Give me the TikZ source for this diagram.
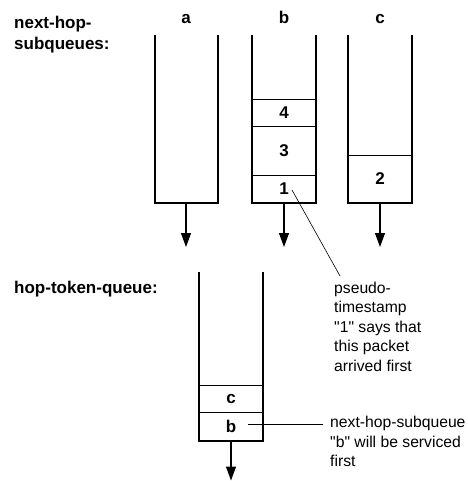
\documentclass[tikz,border=0pt]{standalone}
\usepackage{fontspec}
\setmainfont{Liberation Sans}[Ligatures=TeXOff]
\usetikzlibrary{arrows.meta}
\begin{document}
\begin{tikzpicture}[x=1pt,y=-1pt,
  wall/.style={line width=1.5pt},
  cellbox/.style={draw, line width=0.8pt, minimum width=64pt, inner sep=0pt, font=\fontsize{17}{20}\selectfont\bfseries},
  outarrow/.style={line width=1.2pt, -{Triangle[length=14pt,width=10pt]}},
  leader/.style={line width=0.6pt},
  heading/.style={anchor=north west, inner sep=0pt, align=left, font=\fontsize{17}{21}\selectfont\bfseries},
  qlabel/.style={anchor=base, inner sep=0pt, font=\fontsize{17}{20}\selectfont\bfseries},
  note/.style={anchor=north west, inner sep=0pt, align=left, font=\fontsize{15.7}{19.5}\selectfont}]
\useasboundingbox (0,0) rectangle (467,481);

% headings
\node[heading] (h1) at (14,16) {next-hop-\\subqueues:};
\node[heading] (h2) at (14,281) {hop-token-queue:};

% queue labels
\node[qlabel] (la) at (186,23.5) {a};
\node[qlabel] (lb) at (284,23.5) {b};
\node[qlabel] (lc) at (380,23.5) {c};

% cells
\node[cellbox, minimum height=27.4pt] (b4) at (284,113) {4};
\node[cellbox, minimum height=48.3pt] (b3) at (284,150.85) {3};
\node[cellbox, minimum height=28pt] (b1) at (284,189) {1};
\node[cellbox, minimum height=48pt] (c2) at (380,179) {2};
\node[cellbox, minimum height=27.5pt] (tc) at (231,398.75) {c};
\node[cellbox, minimum height=28.5pt] (tb) at (231,426.75) {b};

% queue walls
\draw[wall] (155,35) -- (155,203) -- (218,203) -- (218,35);
\draw[wall] (252,35) -- (252,203) -- (316,203) -- (316,35);
\draw[wall] (348,35) -- (348,203) -- (412,203) -- (412,35);
\draw[wall] (199,272) -- (199,441) -- (263,441) -- (263,272);

% outputs
\coordinate (ao) at (186,203); \coordinate (at) at (186,247);
\coordinate (bo) at (284,203); \coordinate (bt) at (284,247);
\coordinate (co) at (380,203); \coordinate (ct) at (380,247);
\coordinate (to) at (231,441); \coordinate (tt) at (231,480.5);
\draw[outarrow] (ao) -- (at);
\draw[outarrow] (bo) -- (bt);
\draw[outarrow] (co) -- (ct);
\draw[outarrow] (to) -- (tt);

% notes
\node[note] (n1) at (334,281.5) {pseudo-\\timestamp\\"1" says that\\this packet\\arrived first};
\node[note] (n2) at (330,416) {next-hop-subqueue\\"b" will be serviced\\first};

\coordinate (l1s) at (292,190);
\coordinate (l1e) at (340,276);
\draw[leader] (l1s) -- (l1e);
\coordinate (l2s) at (248,424.5);
\coordinate (l2e) at (323,424.5);
\draw[leader] (l2s) -- (l2e);
\end{tikzpicture}
\end{document}
